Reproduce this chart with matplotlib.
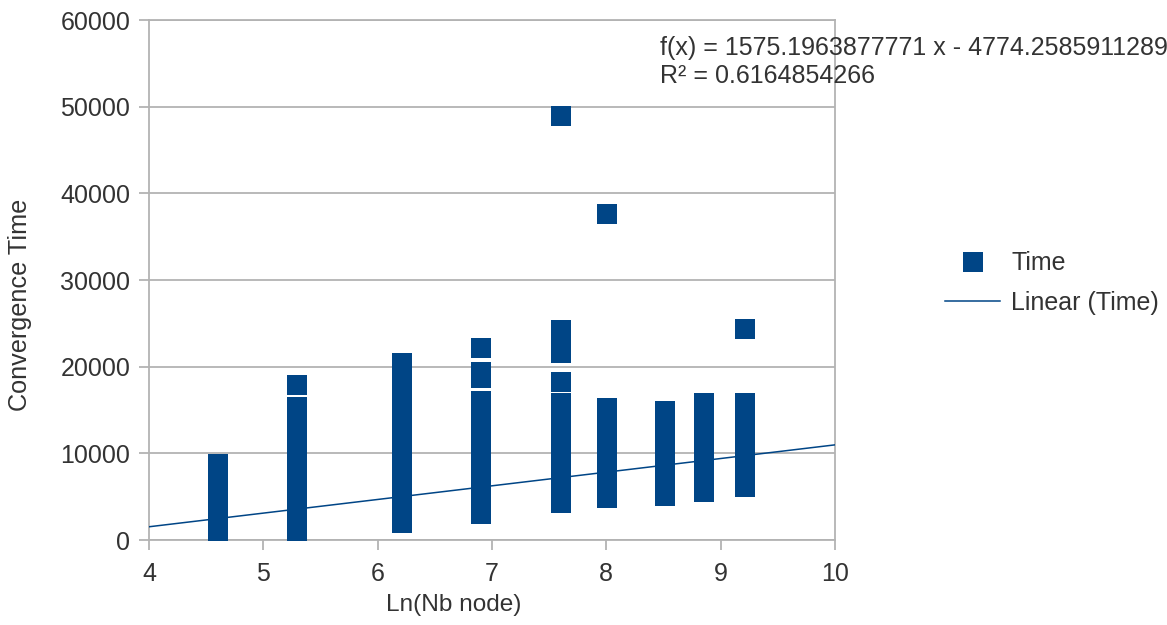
import numpy as np
import matplotlib
matplotlib.use("Agg")
import matplotlib.pyplot as plt
from matplotlib.lines import Line2D

plt.rcParams["font.family"] = ["Liberation Sans", "DejaVu Sans"]

# ── Data ──────────────────────────────────────────────────────────────────────
nb_nodes = [100, 200, 500, 1000, 2000, 3000, 5000, 7000, 10000]

time_100 = [0, 800, 1600, 2400, 3200, 4000, 4800, 5600, 6400, 7200, 8000, 8800]
time_200 = [500, 1300, 2100, 2900, 3700, 4500, 5300, 6100, 6900, 7700, 8500,
            9300, 10100, 10900, 11700, 12500, 13300, 14100, 14800, 15300, 17900]
time_500 = [2000, 2800, 3600, 4400, 5200, 6000, 6800, 7600, 8400, 9200, 10000,
            10800, 11600, 12400, 13200, 14000, 14800, 15600, 16400, 17200,
            18000, 18800, 19600, 20400]
time_1000 = [3000, 3800, 4600, 5400, 6200, 7000, 7800, 8600, 9400, 10200,
             11000, 11800, 12600, 13400, 14200, 15000, 15600, 16000,
             18700, 19400, 22100]
time_2000 = [4300, 5100, 5900, 6700, 7500, 8300, 9100, 9900, 10700, 11500,
             12300, 13100, 13900, 14700, 15300, 15800, 18200,
             21600, 22400, 23300, 24200, 48900]
time_3000 = [4800, 5600, 6400, 7200, 8000, 8800, 9600, 10400, 11200, 12000,
             12800, 13600, 14400, 15200, 37600]
time_5000 = [5100, 5900, 6700, 7500, 8300, 9100, 9900, 10700, 11500, 12300,
             13100, 13900, 14500, 14900]
time_7000 = [5500, 6300, 7100, 7900, 8700, 9500, 10300, 11100, 11900, 12700,
             13500, 14300, 15100, 15800]
time_10000 = [6100, 6900, 7700, 8500, 9300, 10100, 10900, 11700, 12500, 13300,
              14100, 14900, 15500, 15800, 24300]

times = [time_100, time_200, time_500, time_1000, time_2000,
         time_3000, time_5000, time_7000, time_10000]

slope = 1575.1963877771
intercept = -4774.2585911289
r_squared = 0.6164854266

# ── Plot ──────────────────────────────────────────────────────────────────────
BLUE = "#004586"
GRID = "#b3b3b3"
TXT = "#333333"
FS = 18

fig = plt.figure(figsize=(11.67, 6.25), dpi=100)
ax = fig.add_axes([149 / 1167, 1 - 540 / 625, (835 - 149) / 1167, (540 - 20) / 625])

xs, ys = [], []
for n, t in zip(nb_nodes, times):
    xs += [np.log(n)] * len(t)
    ys += t
ax.plot(xs, ys, linestyle="none", marker="s", markersize=14.4,
        color=BLUE, markeredgewidth=0, zorder=3)

trend_x = np.array([4.0, 10.0])
ax.plot(trend_x, slope * trend_x + intercept, color=BLUE, linewidth=1.1, zorder=4)

ax.set_xlim(4, 10)
ax.set_ylim(0, 60000)
ax.set_xticks(range(4, 11))
ax.set_yticks(range(0, 60001, 10000))
ax.yaxis.grid(True, color=GRID, linewidth=1.3)
ax.set_axisbelow(True)
for s in ax.spines.values():
    s.set_color(GRID)
    s.set_linewidth(1.3)
ax.tick_params(axis="both", colors=GRID, labelcolor=TXT, labelsize=FS,
               length=7.5, width=1.3, direction="out")
ax.tick_params(axis="y", pad=6)
ax.tick_params(axis="x", pad=8)
ax.set_xlabel("Ln(Nb node)", fontsize=17.6, color=TXT)
ax.set_ylabel("Convergence Time", fontsize=18.2, color=TXT)
ax.xaxis.set_label_coords((454 - 149) / 686, -(605 - 540) / 520)
ax.yaxis.set_label_coords(-(149 - 20) / 686, (540 - 305) / 520)
ax.xaxis.label.set_va("center")
ax.yaxis.label.set_va("center")

fig.text(660 / 1167, 1 - 36 / 625,
         f"f(x) = {slope:.10f} x - {abs(intercept):.10f}\nR² = {r_squared:.10f}",
         fontsize=FS, color=TXT, va="top", ha="left", linespacing=1.2)

handles = [Line2D([], [], linestyle="none", marker="s", markersize=14.4,
                  color=BLUE, markeredgewidth=0),
           Line2D([], [], color=BLUE, linewidth=1.1)]
fig.legend(handles, ["Time", "Linear (Time)"], loc="center left",
           bbox_to_anchor=(945 / 1167, 1 - 283 / 625), frameon=False,
           fontsize=FS, handlelength=2.2, handletextpad=0.45,
           labelspacing=0.62, borderpad=0, borderaxespad=0, labelcolor=TXT)

fig.savefig("out.png", dpi=100)
plt.close(fig)
